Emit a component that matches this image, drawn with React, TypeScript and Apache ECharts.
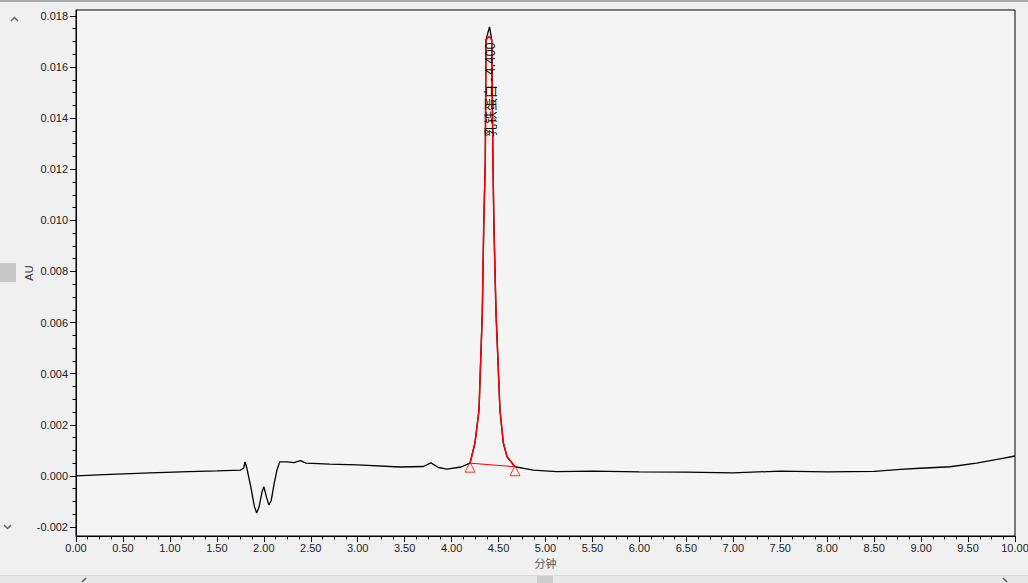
import React, { useEffect, useRef } from "react";
import * as echarts from "echarts";

// Chromatogram trace (minutes, AU)
const traceTimes = [
  0.0, 0.3, 0.79, 1.2, 1.5, 1.75, 1.785, 1.8, 1.82, 1.86, 1.9, 1.925, 1.95, 1.98, 2.0, 2.03, 2.055, 2.08,
  2.11, 2.14, 2.17, 2.25, 2.32, 2.39, 2.45, 2.7, 3.0, 3.45, 3.7, 3.78, 3.86, 3.95, 4.1, 4.196, 4.214, 4.249,
  4.292, 4.327, 4.342, 4.359, 4.366, 4.404, 4.427, 4.441, 4.451, 4.473, 4.515, 4.551, 4.59, 4.675, 4.87,
  5.12, 5.5, 6.0, 6.5, 7.0, 7.5, 8.0, 8.5, 8.78, 8.99, 9.31, 9.59, 9.84, 10.0,
];
const traceValues = [
  0.0, 0.00005, 0.00012, 0.00017, 0.0002, 0.00023, 0.0003, 0.00055, 0.0003, -0.0004, -0.0012, -0.00145,
  -0.0012, -0.00065, -0.00042, -0.00085, -0.00114, -0.00095, -0.0003, 0.00023, 0.00055, 0.00055, 0.00052,
  0.0006, 0.0005, 0.00046, 0.00043, 0.00035, 0.00037, 0.00051, 0.00033, 0.00027, 0.00035, 0.0005, 0.00076,
  0.00129, 0.00258, 0.00638, 0.00975, 0.01237, 0.01706, 0.01757, 0.01706, 0.01209, 0.00975, 0.00638,
  0.00258, 0.00129, 0.00076, 0.00036, 0.00023, 0.00017, 0.00019, 0.00016, 0.00015, 0.00012, 0.00019,
  0.00016, 0.00018, 0.00026, 0.0003, 0.00036, 0.0005, 0.00067, 0.00078,
];

// Integrated peak (red)
const peakTimes = [4.196, 4.214, 4.249, 4.292, 4.327, 4.342, 4.359, 4.366, 4.4, 4.427, 4.441, 4.451, 4.473, 4.515, 4.551, 4.59, 4.675];
const peakValues = [0.0005, 0.00076, 0.00129, 0.00258, 0.00638, 0.00975, 0.01237, 0.01706, 0.0172, 0.01706, 0.01209, 0.00975, 0.00638, 0.00258, 0.00129, 0.00076, 0.00036];
const peakStart = [4.196, 0.0005];
const peakEnd = [4.675, 0.00036];
const peakLabel = "乳铁蛋白 - 4.400";

const yTicks = [-0.002, 0.0, 0.002, 0.004, 0.006, 0.008, 0.01, 0.012, 0.014, 0.016, 0.018];
const yMin = -0.00235;
const yMax = 0.01823;
const xMin = 0;
const xMax = 10;
const xInterval = 0.5;

const FONT = "Liberation Sans, Arial, sans-serif";

export default function App() {
  const ref = useRef<HTMLDivElement>(null);

  useEffect(() => {
    if (!ref.current) return;
    const chart = echarts.init(ref.current, null, { renderer: "svg" });

    const minorTicks: number[] = [];
    for (let i = 0; i < yTicks.length - 1; i++) {
      const a = yTicks[i];
      const b = yTicks[i + 1];
      for (let k = 1; k < 4; k++) minorTicks.push(a + ((b - a) * k) / 4);
    }
    minorTicks.push(0.0185);

    const trace = traceTimes.map((t, i) => [t, traceValues[i]]);
    const peak = peakTimes.map((t, i) => [t, peakValues[i]]);

    chart.setOption({
      animation: false,
      backgroundColor: "#f0f0f0",
      grid: {
        left: 76,
        right: 13,
        top: 10,
        bottom: 47,
        show: true,
        borderColor: "#000",
        borderWidth: 1,
        backgroundColor: "#f4f4f4",
        outerBoundsMode: "none",
        containLabel: false,
      },
      xAxis: {
        type: "value",
        min: xMin,
        max: xMax,
        interval: xInterval,
        name: "分钟",
        nameLocation: "middle",
        nameGap: 21,
        nameMoveOverlap: false,
        nameTextStyle: { fontSize: 11, color: "#555", fontFamily: "Noto Sans CJK SC" },
        axisLine: { show: true, onZero: false, lineStyle: { color: "#000", width: 1 } },
        axisTick: { show: true, length: 6, lineStyle: { color: "#000" } },
        minorTick: { show: true, splitNumber: 4, length: 3.5, lineStyle: { color: "#000" } },
        splitLine: { show: false },
        axisLabel: {
          formatter: (v: number) => v.toFixed(2),
          fontSize: 11,
          color: "#222",
          margin: 6,
          fontFamily: FONT,
        },
      },
      yAxis: [
        {
          type: "value",
          min: yMin,
          max: yMax,
          name: "AU",
          nameLocation: "middle",
          nameGap: 42,
          nameRotate: 90,
          nameMoveOverlap: false,
          nameTextStyle: { fontSize: 11, color: "#333", fontFamily: FONT },
          axisLine: { show: true, onZero: false, lineStyle: { color: "#000", width: 1 } },
          axisTick: { show: true, length: 6, customValues: yTicks, lineStyle: { color: "#000" } },
          splitLine: { show: false },
          axisLabel: {
            customValues: yTicks,
            formatter: (v: number) => v.toFixed(3),
            fontSize: 11,
            color: "#222",
            margin: 8,
            fontFamily: FONT,
          },
        },
        {
          type: "value",
          min: yMin,
          max: yMax,
          position: "left",
          axisLine: { show: false, onZero: false },
          axisTick: { show: true, length: 3.5, customValues: minorTicks.filter((v) => v < yMax), lineStyle: { color: "#000" } },
          axisLabel: { show: false },
          splitLine: { show: false },
        },
      ],
      series: [
        {
          type: "line",
          data: trace,
          showSymbol: false,
          lineStyle: { color: "#000", width: 1.3 },
          z: 2,
        },
        {
          type: "line",
          data: peak,
          showSymbol: false,
          lineStyle: { color: "#ff0000", width: 1.5 },
          z: 3,
        },
        {
          type: "line",
          data: [peakStart, peakEnd],
          showSymbol: false,
          lineStyle: { color: "#ff0000", width: 1 },
          z: 3,
        },
        {
          type: "scatter",
          data: [peakStart, peakEnd],
          symbol: "triangle",
          symbolSize: [10, 10],
          symbolOffset: [0, 4],
          itemStyle: { color: "rgba(0,0,0,0)", borderColor: "#ff0000", borderWidth: 1 },
          z: 4,
        },
      ],
      graphic: [
        { type: "rect", shape: { x: 0, y: 0, width: 1028, height: 2 }, style: { fill: "#a8a8a8" }, silent: true },
        { type: "polyline", shape: { points: [[11, 21], [14.5, 17.5], [18, 21]] }, style: { stroke: "#666", lineWidth: 1.5, fill: null }, silent: true },
        { type: "polyline", shape: { points: [[4, 525], [7.5, 528.5], [11, 525]] }, style: { stroke: "#666", lineWidth: 1.5, fill: null }, silent: true },
        { type: "rect", shape: { x: 0, y: 263, width: 16, height: 19 }, style: { fill: "#c8c8c8" }, silent: true },
        { type: "rect", shape: { x: 0, y: 576, width: 1028, height: 7 }, style: { fill: "#e8e8e8" }, silent: true },
        { type: "rect", shape: { x: 0, y: 575, width: 1028, height: 1 }, style: { fill: "#dadada" }, silent: true },
        { type: "rect", shape: { x: 537, y: 576, width: 16, height: 7 }, style: { fill: "#cdcdcd" }, silent: true },
        { type: "line", shape: { x1: 82, y1: 582, x2: 86, y2: 578 }, style: { stroke: "#555", lineWidth: 1.5 }, silent: true },
        { type: "line", shape: { x1: 1003, y1: 578, x2: 1007, y2: 582 }, style: { stroke: "#555", lineWidth: 1.5 }, silent: true },
        {
          type: "text",
          x: 489,
          y: 137,
          rotation: Math.PI / 2,
          style: {
            text: peakLabel,
            fill: "#111",
            font: "13px 'Noto Sans CJK SC', sans-serif",
            textAlign: "left",
            textVerticalAlign: "middle",
          },
          z: 10,
          silent: true,
        },
      ],
    });

    return () => chart.dispose();
  }, []);

  return (
    <div
      ref={ref}
      style={{ position: "fixed", left: 0, top: 0, width: 1028, height: 583, background: "#f0f0f0" }}
    />
  );
}
